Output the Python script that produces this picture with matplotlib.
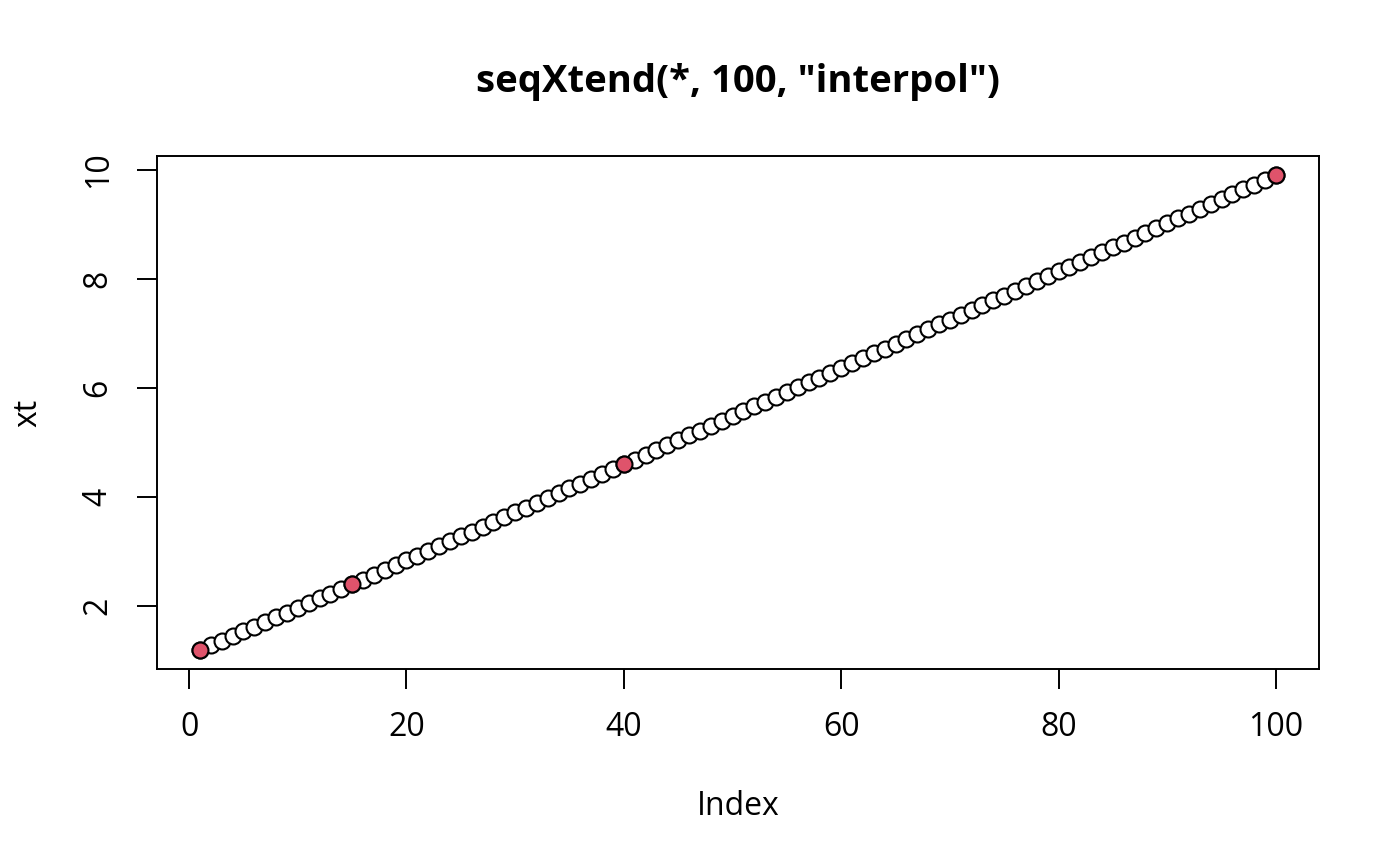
import numpy as np
import matplotlib.pyplot as plt

plt.rcParams['font.family'] = ['Open Sans', 'DejaVu Sans']

# extended sequence (100 values)
xt = [1.200, 1.286, 1.371, 1.457, 1.543, 1.629, 1.714, 1.800, 1.886, 1.971,
      2.057, 2.143, 2.229, 2.314, 2.400, 2.488, 2.576, 2.664, 2.752, 2.840,
      2.928, 3.016, 3.104, 3.192, 3.280, 3.368, 3.456, 3.544, 3.632, 3.720,
      3.808, 3.896, 3.984, 4.072, 4.160, 4.248, 4.336, 4.424, 4.512, 4.600,
      4.688, 4.777, 4.865, 4.953, 5.042, 5.130, 5.218, 5.307, 5.395, 5.483,
      5.572, 5.660, 5.748, 5.837, 5.925, 6.013, 6.102, 6.190, 6.278, 6.367,
      6.455, 6.543, 6.632, 6.720, 6.808, 6.897, 6.985, 7.073, 7.162, 7.250,
      7.338, 7.427, 7.515, 7.603, 7.692, 7.780, 7.868, 7.957, 8.045, 8.133,
      8.222, 8.310, 8.398, 8.487, 8.575, 8.663, 8.752, 8.840, 8.928, 9.017,
      9.105, 9.193, 9.282, 9.370, 9.458, 9.547, 9.635, 9.723, 9.812, 9.900]
index = np.arange(1, len(xt) + 1)

# original points (filled red)
orig_index = [1, 15, 40, 100]
orig_x = [1.2, 2.4, 4.6, 9.9]

fig = plt.figure(figsize=(14, 8.66), dpi=100)
ax = fig.add_axes([0.1121, 0.2275, 0.83, 0.5924])

ax.plot(index, xt, 'o', markersize=11.5, markerfacecolor='white',
        markeredgecolor='black', markeredgewidth=1.5, linestyle='none')
ax.plot(orig_index, orig_x, 'o', markersize=11.5, markerfacecolor='#DF536B',
        markeredgecolor='black', markeredgewidth=1.5, linestyle='none')

ax.set_xlim(1 - 0.04 * 99, 100 + 0.04 * 99)
ax.set_ylim(1.2 - 0.04 * 8.7, 9.9 + 0.04 * 8.7)
ax.set_xticks([0, 20, 40, 60, 80, 100])
ax.set_yticks([2, 4, 6, 8, 10])
ax.tick_params(direction='out', length=14.4, width=1.4, labelsize=23, pad=16)
for lab in ax.get_yticklabels():
    lab.set_rotation(90)
    lab.set_va('center')
for s in ax.spines.values():
    s.set_linewidth(1.4)

ax.set_xlabel('Index', fontsize=23, labelpad=33)
ax.set_ylabel('xt', fontsize=23, labelpad=27)
ax.set_title('seqXtend(*, 100, "interpol")', fontsize=27.5, fontweight='bold', pad=46)

fig.savefig('out.png', dpi=100)
